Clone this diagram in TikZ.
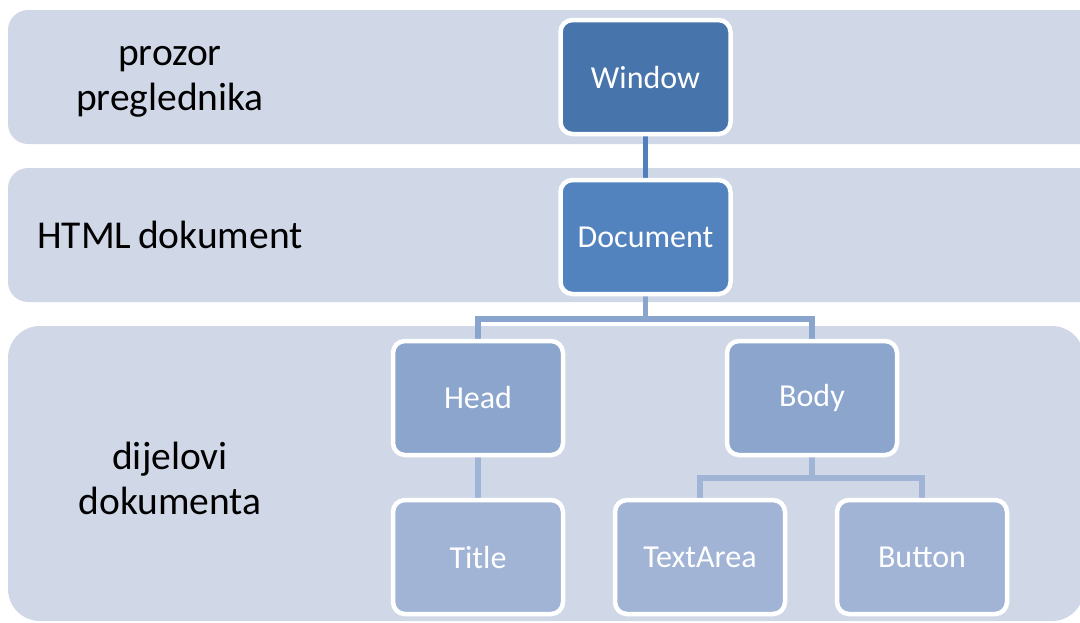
\documentclass[tikz,border=0pt]{standalone}
\usepackage{fontspec}
\setmainfont{Carlito}

\definecolor{bandfill}{HTML}{D0D8E8}
\definecolor{lvlone}{HTML}{4874AC}
\definecolor{lvltwo}{HTML}{5283BF}
\definecolor{lvlthree}{HTML}{8BA5CC}
\definecolor{lvlfour}{HTML}{A1B4D5}
\definecolor{linkone}{HTML}{4F7FBC}
\definecolor{linktwo}{HTML}{8AA5CD}
\definecolor{linkthree}{HTML}{A0B4D6}

\pgfdeclarelayer{bands}
\pgfdeclarelayer{links}
\pgfsetlayers{bands,links,main}

\begin{document}
\begin{tikzpicture}[x=1pt,y=-1pt,
  band/.style={fill=bandfill, rounded corners=20pt},
  bandlabel/.style={align=center, text=black, inner sep=0pt,
    font=\fontsize{39.5}{45}\selectfont},
  box/.style={draw=white, line width=4.5pt, rounded corners=12pt,
    minimum width=170pt, minimum height=114pt, inner sep=0pt,
    text=white, font=\fontsize{32}{36}\selectfont},
  link/.style={line width=5.5pt}
]
\useasboundingbox (0,0) rectangle (1080,622);
\clip (0,0) rectangle (1080,622);

% horizontal bands
\begin{pgfonlayer}{bands}
  \fill[band] (8,10) rectangle (1120,144);
  \fill[band] (8,168) rectangle (1120,302);
  \fill[band, rounded corners=32pt] (8,326) rectangle (1084,621);
\end{pgfonlayer}

% band captions
\node[bandlabel] (lblwin) at (170,82) {prozor\\preglednika};
\node[bandlabel] (lbldoc) at (170,235) {HTML\,dokument};
\node[bandlabel] (lblparts) at (170,478) {dijelovi\\dokumenta};

% tree nodes
\node[box, fill=lvlone]   (win)  at (645.5,77)  {Window};
\node[box, fill=lvltwo]   (doc)  at (645.5,237) {Document};
\node[box, fill=lvlthree] (head) at (478,398)   {Head};
\node[box, fill=lvlthree] (body) at (812,398)   {Body};
\node[box, fill=lvlfour]  (title) at (478,557)  {Title};
\node[box, fill=lvlfour]  (text) at (700,557)   {TextArea};
\node[box, fill=lvlfour]  (btn)  at (922,557)   {Button};

\coordinate (docbar) at (645.5,319);
\coordinate (bodybar) at (812,478);

% connectors
\begin{pgfonlayer}{links}
  \draw[link, linkone] (win.south) -- (doc.north);
  \draw[link, linktwo] (doc.south) -- (docbar);
  \draw[link, linktwo] (head.north) -- (head.north |- docbar)
        -- (body.north |- docbar) -- (body.north);
  \draw[link, linkthree] (head.south) -- (title.north);
  \draw[link, linkthree] (body.south) -- (bodybar);
  \draw[link, linkthree] (text.north) -- (text.north |- bodybar)
        -- (btn.north |- bodybar) -- (btn.north);
\end{pgfonlayer}
\end{tikzpicture}
\end{document}
